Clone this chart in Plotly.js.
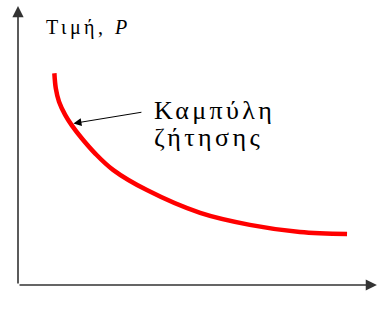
<!DOCTYPE html>
<html>
<head>
<meta charset="utf-8">
<script src="https://cdn.plot.ly/plotly-3.0.1.min.js"></script>
<style>html,body{margin:0;padding:0;background:#fff;}</style>
</head>
<body>
<div id="chart" style="width:378px;height:321px;"></div>
<script>
// Demand curve (Q and P on 0-100 scales)
const quantity = [10.1, 10.5, 11.4, 13.1, 14.9, 17.7, 21.4, 26.4, 35.8, 50.6, 64.4, 78.3, 91.4];
const price    = [74.3, 69.0, 64.3, 59.7, 56.1, 51.5, 46.2, 40.4, 33.3, 25.3, 21.1, 18.6, 17.9];
const yLabel = 'Τιμή, <i>P</i>';
const xLabel = 'Ποσότητα, <i>Q</i>';
const curveLabel1 = 'Καμπύλη';
const curveLabel2 = 'ζήτησης';

const serif = 'Liberation Serif, Times New Roman, serif';
const sp = (t, px) => '<span style="letter-spacing:' + px + 'px">' + t + '</span>';

const trace = {
  x: quantity, y: price, type: 'scatter', mode: 'lines',
  line: {color: '#ff0000', width: 4.5, shape: 'spline', smoothing: 1},
  hoverinfo: 'skip'
};

const layout = {
  width: 378, height: 321,
  margin: {l: 18, r: 0, t: 0, b: 36},
  paper_bgcolor: '#fff', plot_bgcolor: '#fff',
  showlegend: false,
  font: {family: serif},
  xaxis: {range: [0, 100], showgrid: false, zeroline: false, showticklabels: false, ticks: '', showline: false, fixedrange: true},
  yaxis: {range: [0, 100], showgrid: false, zeroline: false, showticklabels: false, ticks: '', showline: false, fixedrange: true},
  annotations: [
    {x: 0, y: 97.9, ax: 0, ay: 0, xref: 'x', yref: 'y', axref: 'x', ayref: 'y', text: '', showarrow: true,
     arrowhead: 2, arrowsize: 1.4, arrowwidth: 1.6, arrowcolor: '#333'},
    {x: 99.7, y: 0, ax: 0, ay: 0, xref: 'x', yref: 'y', axref: 'x', ayref: 'y', text: '', showarrow: true,
     arrowhead: 2, arrowsize: 1.4, arrowwidth: 1.6, arrowcolor: '#333'},
    {x: 15.4, y: 56.7, ax: 34.7, ay: 60.7, xref: 'x', yref: 'y', axref: 'x', ayref: 'y', text: '', showarrow: true,
     arrowhead: 2, arrowsize: 1.6, arrowwidth: 1, arrowcolor: '#000'},
    {x: 7.2, y: 90.2, xref: 'x', yref: 'y', xanchor: 'left', yanchor: 'middle', showarrow: false,
     text: sp(yLabel, 3.5), font: {family: serif, size: 20, color: '#000'}},
    {x: 37.2, y: 61.4, xref: 'x', yref: 'y', xanchor: 'left', yanchor: 'middle', showarrow: false,
     text: sp(curveLabel1, 3.4), font: {family: serif, size: 26, color: '#000'}},
    {x: 37.2, y: 51.6, xref: 'x', yref: 'y', xanchor: 'left', yanchor: 'middle', showarrow: false,
     text: sp(curveLabel2, 3.4), font: {family: serif, size: 26, color: '#000'}},
    {x: 96.9, y: -7.7, xref: 'x', yref: 'y', xanchor: 'right', yanchor: 'middle', showarrow: false,
     text: sp(xLabel, 3), font: {family: serif, size: 20, color: '#000'}}
  ]
};

Plotly.newPlot('chart', [trace], layout, {displayModeBar: false, staticPlot: true});
</script>
</body>
</html>
